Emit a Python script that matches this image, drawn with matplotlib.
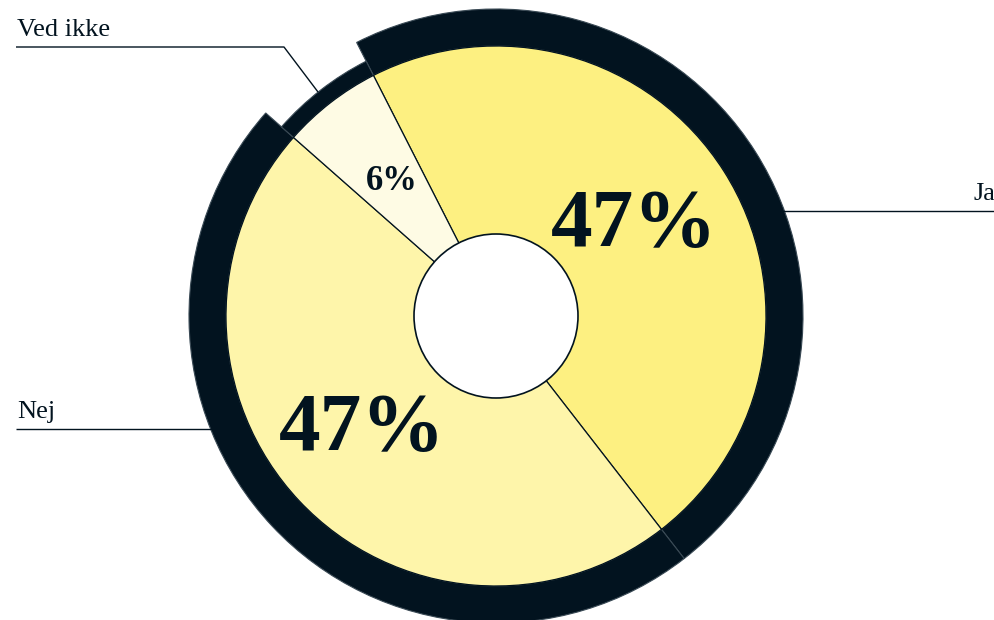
import matplotlib
matplotlib.use("Agg")
import matplotlib.pyplot as plt

# answers and their shares (percent)
categories = ["Ja", "Nej", "Ved ikke"]
values = [47, 47, 6]

fill_colors = ["#fdf081", "#fef5aa", "#fefbe4"]
dark = "#02131f"
serif = ["Liberation Serif", "DejaVu Serif"]

W, H = 995, 620
fig = plt.figure(figsize=(W / 100, H / 100), dpi=100)
ax = fig.add_axes([0, 0, 1, 1])

cx, cy = 496, H - 316
r_fill = 270
r_ring = {"Ja": 307, "Nej": 307, "Ved ikke": 286}
start = 117

# outer dark ring, one wedge per answer
ring, _ = ax.pie(values, radius=r_ring["Ja"], center=(cx, cy), startangle=start,
                 counterclock=False, colors=[dark] * 3,
                 wedgeprops=dict(width=r_ring["Ja"] - r_fill, edgecolor="#3a4a55", linewidth=0.8))
for w, name in zip(ring, categories):
    w.set_radius(r_ring[name])
    w.set_width(r_ring[name] - r_fill)

# filled slices
wedges, _, pcts = ax.pie(values, radius=r_fill, center=(cx, cy), startangle=start,
                         counterclock=False, colors=fill_colors,
                         autopct=lambda p: f"{p:.0f}%", pctdistance=0.63,
                         wedgeprops=dict(edgecolor=dark, linewidth=0.9),
                         textprops=dict(color=dark, family=serif, fontweight="bold"))
for t, v in zip(pcts, values):
    t.set_fontsize(60 if v > 10 else 25)
    t.set_fontstretch("condensed")
# the lower big label sits a bit further out in the original
x0, y0 = pcts[1].get_position()
pcts[1].set_position((x0 - 10, y0 + 2))
x0, y0 = pcts[0].get_position()
pcts[0].set_position((x0 - 5, y0 - 2))

# pie() resets the limits, so set them afterwards
ax.set_xlim(0, W)
ax.set_ylim(0, H)
ax.set_aspect("equal")
ax.axis("off")

# hole in the middle
ax.add_patch(plt.Circle((cx, cy), 82, facecolor="white", edgecolor=dark, linewidth=1.2, zorder=5))

# leader lines and labels
line_kw = dict(color=dark, linewidth=1.0, solid_capstyle="butt")
ax.plot([16, 284, 318], [H - 47, H - 47, H - 92], **line_kw)
ax.text(17, H - 41, "Ved ikke", family=serif, fontsize=19, color=dark, ha="left", va="bottom")
ax.plot([16, 212], [H - 429, H - 429], **line_kw)
ax.text(17, H - 423, "Nej", family=serif, fontsize=19, color=dark, ha="left", va="bottom")
ax.plot([783, 995], [H - 211, H - 211], **line_kw)
ax.text(995, H - 205, "Ja", family=serif, fontsize=19, color=dark, ha="right", va="bottom")

fig.savefig("out.png", dpi=100)
